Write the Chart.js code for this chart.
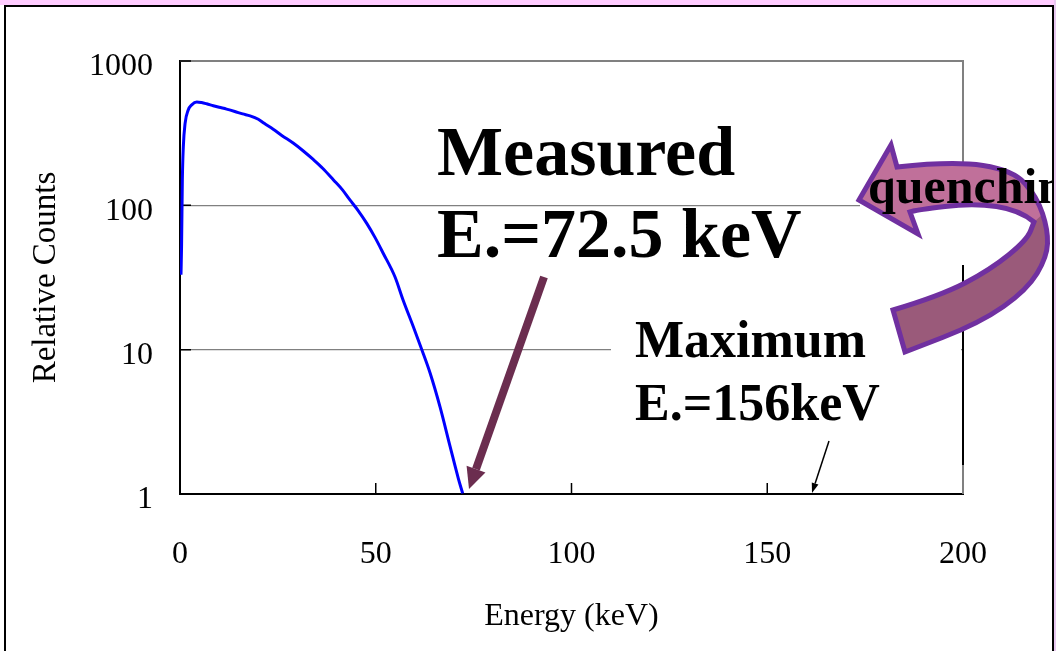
<!DOCTYPE html>
<html>
<head>
<meta charset="utf-8">
<script src="https://cdn.jsdelivr.net/npm/chart.js@4"></script>
<style>
html, body { margin: 0; padding: 0; background: #fff; }
#wrap { width: 1056px; height: 651px; }
</style>
</head>
<body>
<div id="wrap"><canvas id="spectrum" width="1056" height="651"></canvas></div>
<script>
// spectrum (keV vs relative counts)
const energyKeV = [0.25, 0.4, 0.6, 0.85, 1.3, 2.1, 3.0, 4.3, 5.5, 6.8, 8.5, 10, 11.9, 14, 16, 17.9, 20, 21.5, 23.8, 26,
    28.9, 31.5, 34.1, 36.5, 39.2, 41.5, 43.4, 45.5, 47.7, 49.8, 51.9, 54.9, 57.0, 59.6, 61.7, 63.9, 66.4, 69.0, 71.1, 72.2];
const relCounts = [33, 52, 150, 255, 370, 458, 497, 520, 515, 505, 490, 478, 464, 447, 430, 417, 395, 370, 337, 305,
    270, 238, 207, 180, 150, 128, 109, 92, 75, 60, 46.6, 32, 22, 14.4, 10.1, 6.86, 4.03, 2.13, 1.28, 1.01];
const xTicks = [0, 50, 100, 150, 200];
const yTicks = [1, 10, 100, 1000];

const serif = "'Liberation Serif', 'Times New Roman', serif";

function arrow(ctx, x1, y1, x2, y2, w, headLen, headHalf, color) {
    const a = Math.atan2(y2 - y1, x2 - x1);
    const bx = x2 - Math.cos(a) * headLen, by = y2 - Math.sin(a) * headLen;
    ctx.strokeStyle = color;
    ctx.fillStyle = color;
    ctx.lineWidth = w;
    ctx.beginPath();
    ctx.moveTo(x1, y1);
    ctx.lineTo(bx, by);
    ctx.stroke();
    ctx.beginPath();
    ctx.moveTo(x2, y2);
    ctx.lineTo(bx + Math.sin(a) * headHalf, by - Math.cos(a) * headHalf);
    ctx.lineTo(bx - Math.sin(a) * headHalf, by + Math.cos(a) * headHalf);
    ctx.closePath();
    ctx.fill();
}

function smooth(ctx, pts) {
    for (let i = 1; i < pts.length - 1; i++) {
        const mx = (pts[i][0] + pts[i + 1][0]) / 2, my = (pts[i][1] + pts[i + 1][1]) / 2;
        ctx.quadraticCurveTo(pts[i][0], pts[i][1], mx, my);
    }
    const last = pts[pts.length - 1];
    ctx.lineTo(last[0], last[1]);
}

const outerEdge = [[897, 167], [953, 161], [1013, 170], [1037, 197], [1048, 230], [1047, 257], [1027, 290], [980, 323], [905, 352]];
const innerLow = [[893, 310], [940, 296], [990, 270], [1027, 240], [1034, 222]];
const innerUp = [[1034, 222], [1020, 210], [973, 203], [917, 210], [910, 212]];

function quenchPath(ctx) {
    ctx.beginPath();
    ctx.moveTo(859, 200);
    ctx.lineTo(891, 145);
    ctx.lineTo(897, 167);
    smooth(ctx, outerEdge);
    ctx.lineTo(893, 310);
    smooth(ctx, innerLow);
    smooth(ctx, innerUp);
    ctx.lineTo(918, 234);
    ctx.closePath();
}

const slideDecor = {
    id: 'slideDecor',
    beforeDraw(chart) {
        const ctx = chart.ctx;
        ctx.save();
        ctx.fillStyle = '#ffffff';
        ctx.fillRect(0, 0, 1056, 651);
        ctx.fillStyle = '#ffccff';
        ctx.fillRect(0, 0, 1056, 5);
        ctx.fillStyle = '#e8c8f0';
        ctx.fillRect(1054, 0, 2, 651);
        ctx.strokeStyle = '#000';
        ctx.lineWidth = 2;
        ctx.strokeRect(5, 6, 1048, 660);
        ctx.restore();
    },
    beforeDatasetsDraw(chart) {
        const {ctx, chartArea: a, scales} = chart;
        ctx.save();
        ctx.strokeStyle = '#808080';
        ctx.lineWidth = 2;
        ctx.beginPath();
        ctx.moveTo(a.left, a.top);
        ctx.lineTo(a.right, a.top);
        ctx.lineTo(a.right, a.bottom);
        ctx.stroke();
        ctx.strokeStyle = '#000';
        ctx.lineWidth = 1.5;
        ctx.beginPath();
        yTicks.slice(1).forEach(v => {
            const y = scales.y.getPixelForValue(v);
            ctx.moveTo(a.left, y);
            ctx.lineTo(a.left + 11, y);
        });
        xTicks.slice(1, -1).forEach(v => {
            const x = scales.x.getPixelForValue(v);
            ctx.moveTo(x, a.bottom);
            ctx.lineTo(x, a.bottom - 11);
        });
        ctx.stroke();
        ctx.restore();
    },
    afterDraw(chart) {
        const {ctx, chartArea: a} = chart;
        ctx.save();
        // text boxes that hide part of the grid
        ctx.fillStyle = '#fff';
        ctx.fillRect(860, 168, 190, 97);
        ctx.fillRect(611, 300, 350, 140);
        ctx.strokeStyle = '#000';
        ctx.lineWidth = 2;
        ctx.beginPath();
        ctx.moveTo(a.right, 265);
        ctx.lineTo(a.right, 465);
        ctx.stroke();

        // quenching arrow
        quenchPath(ctx);
        ctx.fillStyle = '#c0709a';
        ctx.fill();
        ctx.beginPath();
        ctx.moveTo(1034, 222);
        ctx.lineTo(1044, 213);
        smooth(ctx, [[1044, 213], [1048, 230], [1047, 257], [1027, 290], [980, 323], [905, 352]]);
        ctx.lineTo(893, 310);
        smooth(ctx, innerLow);
        ctx.closePath();
        ctx.fillStyle = '#9a5a7a';
        ctx.fill();
        quenchPath(ctx);
        ctx.strokeStyle = '#7030a0';
        ctx.lineWidth = 5;
        ctx.lineJoin = 'miter';
        ctx.stroke();

        ctx.fillStyle = '#000';
        ctx.textBaseline = 'alphabetic';
        ctx.textAlign = 'left';
        ctx.save();
        ctx.beginPath();
        ctx.rect(0, 0, 1052, 651);
        ctx.clip();
        ctx.font = 'bold 50px ' + serif;
        ctx.fillText('quenching', 868, 203);
        ctx.restore();

        ctx.font = 'bold 70px ' + serif;
        ctx.fillText('Measured', 437, 175);
        ctx.fillText('E.=72.5 keV', 437, 257);
        ctx.font = 'bold 52px ' + serif;
        ctx.fillText('Maximum', 635, 357);
        ctx.fillText('E.=156keV', 635, 420);

        arrow(ctx, 544, 277, 469, 489, 8, 21, 10, '#6b2d4f');
        arrow(ctx, 829, 441, 812, 493, 1.5, 10, 3.5, '#000');
        ctx.restore();
    }
};

new Chart(document.getElementById('spectrum'), {
    type: 'line',
    data: {
        datasets: [{
            label: 'Relative Counts',
            data: energyKeV.map((e, i) => ({x: e, y: relCounts[i]})),
            borderColor: '#0000ff',
            borderWidth: 3,
            pointRadius: 0,
            cubicInterpolationMode: 'monotone',
            fill: false
        }]
    },
    options: {
        responsive: false,
        animation: false,
        devicePixelRatio: 1,
        layout: { padding: { left: 0, top: 61, right: 93, bottom: 0 } },
        plugins: {
            legend: { display: false },
            tooltip: { enabled: false }
        },
        scales: {
            x: {
                type: 'linear',
                min: 0,
                max: 200,
                afterBuildTicks: s => { s.ticks = xTicks.map(v => ({value: v})); },
                afterFit: s => { s.height = 157; },
                grid: { color: 'rgba(0,0,0,0)', drawTicks: false },
                border: { color: '#000', width: 2 },
                ticks: { color: '#000', padding: 41, maxRotation: 0, font: { family: serif, size: 32 } },
                title: { display: true, text: 'Energy (keV)', color: '#000', padding: { top: 0, bottom: 15 }, font: { family: serif, size: 32 } }
            },
            y: {
                type: 'logarithmic',
                min: 1,
                max: 1000,
                afterBuildTicks: s => { s.ticks = yTicks.map(v => ({value: v})); },
                afterFit: s => { s.width = 180; },
                grid: {
                    color: c => (c.tick && (c.tick.value === 10 || c.tick.value === 100)) ? '#808080' : 'rgba(0,0,0,0)',
                    drawTicks: false,
                    lineWidth: 1.2
                },
                border: { color: '#000', width: 2 },
                ticks: { color: '#000', padding: 27, labelOffset: 6, callback: v => String(v), font: { family: serif, size: 32 } },
                title: { display: true, text: 'Relative Counts', color: '#000', padding: { top: 27, bottom: 0 }, font: { family: serif, size: 33 } }
            }
        }
    },
    plugins: [slideDecor]
});
</script>
</body>
</html>
